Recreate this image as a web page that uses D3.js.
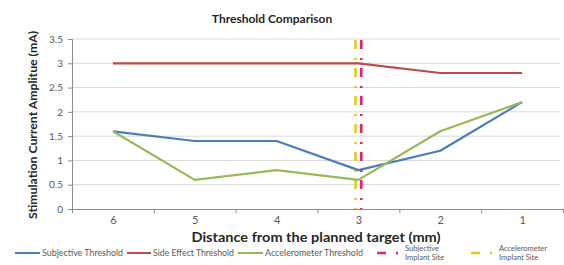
<!DOCTYPE html>
<html>
<head>
<meta charset="utf-8">
<script src="https://cdn.jsdelivr.net/npm/d3@7"></script>
<style>
  body { margin: 0; background: #fff; }
  text { font-family: Lato, "Open Sans", sans-serif; }
</style>
</head>
<body>
<script>
// chart data
var distances = [6, 5, 4, 3, 2, 1];
var subjective = [1.6, 1.4, 1.4, 0.8, 1.2, 2.2];
var sideEffect = [3, 3, 3, 3, 2.8, 2.8];
var accelerometer = [1.6, 0.6, 0.8, 0.6, 1.6, 2.2];
var yTicks = [0, 0.5, 1, 1.5, 2, 2.5, 3, 3.5];
// implant sites sit on either side of 3 mm
var subjectiveSite = 2.965;
var accelerometerSite = 3.035;

var svgWidth = 564;
var svgHeight = 265;

var margin = { top: 39, right: 1, bottom: 56, left: 72 };
var chartWidth = svgWidth - margin.left - margin.right;
var chartHeight = svgHeight - margin.top - margin.bottom;

var svg = d3.select("body").append("svg")
  .attr("width", svgWidth)
  .attr("height", svgHeight);

var chartGroup = svg.append("g")
  .attr("transform", `translate(${margin.left}, ${margin.top})`);

var xScale = d3.scaleLinear()
  .domain([6.5, 0.5])
  .range([0, chartWidth]);

var yScale = d3.scaleLinear()
  .domain([0, 3.5])
  .range([chartHeight, 0]);

// gridlines
chartGroup.append("g")
  .selectAll("line")
  .data(yTicks.slice(1))
  .enter().append("line")
  .attr("x1", 0)
  .attr("x2", chartWidth - 3)
  .attr("y1", d => yScale(d))
  .attr("y2", d => yScale(d))
  .attr("stroke", "#d9d9d9")
  .attr("stroke-width", 1);

// y axis
var leftAxis = d3.axisLeft(yScale).tickValues(yTicks).tickSize(4).tickPadding(5)
  .tickFormat(d3.format("~g"));
var yAxis = chartGroup.append("g").call(leftAxis);
yAxis.select(".domain").attr("stroke", "#8c8c8c");
yAxis.selectAll(".tick line").attr("stroke", "#8c8c8c");
yAxis.selectAll("text").attr("fill", "#595959").style("font-size", "10px");

// x axis: tick marks between categories, labels on them
var xAxisTicks = d3.axisBottom(xScale)
  .tickValues([6.5, 5.5, 4.5, 3.5, 2.5, 1.5, 0.5])
  .tickSize(4)
  .tickFormat("");
var xAxis = chartGroup.append("g")
  .attr("transform", `translate(0, ${chartHeight})`)
  .call(xAxisTicks);
xAxis.select(".domain").attr("stroke", "#8c8c8c");
xAxis.selectAll(".tick line").attr("stroke", "#8c8c8c");

var xAxisLabels = d3.axisBottom(xScale).tickValues(distances).tickSize(0).tickPadding(7)
  .tickFormat(d3.format("d"));
var xLabels = chartGroup.append("g")
  .attr("transform", `translate(0, ${chartHeight})`)
  .call(xAxisLabels);
xLabels.select(".domain").remove();
xLabels.selectAll("text").attr("fill", "#595959").style("font-size", "11px");

// implant site markers
var dashPattern = "9,9,2,8";
chartGroup.append("line")
  .attr("x1", xScale(accelerometerSite)).attr("x2", xScale(accelerometerSite))
  .attr("y1", yScale(3.5) + 1).attr("y2", yScale(0))
  .attr("stroke", "#d4d21a")
  .attr("stroke-width", 2.6)
  .attr("stroke-dasharray", dashPattern);
chartGroup.append("line")
  .attr("x1", xScale(subjectiveSite)).attr("x2", xScale(subjectiveSite))
  .attr("y1", yScale(3.5) + 1).attr("y2", yScale(0))
  .attr("stroke", "#e5226d")
  .attr("stroke-width", 2.6)
  .attr("stroke-dasharray", dashPattern);

// series lines
var drawLine = d3.line()
  .x((d, i) => xScale(distances[i]))
  .y(d => yScale(d));

var series = [
  { values: sideEffect, color: "#be4b48" },
  { values: subjective, color: "#4a7ebb" },
  { values: accelerometer, color: "#98b954" }
];

series.forEach(function(s) {
  chartGroup.append("path")
    .attr("d", drawLine(s.values))
    .attr("fill", "none")
    .attr("stroke", s.color)
    .attr("stroke-width", 2.2)
    .attr("stroke-linejoin", "round");
});

// title
svg.append("text")
  .attr("x", 272)
  .attr("y", 23)
  .attr("text-anchor", "middle")
  .style("font-size", "12px")
  .style("font-weight", "bold")
  .attr("fill", "#262626")
  .text("Threshold Comparison");

// axis titles
svg.append("text")
  .attr("transform", "translate(37, 125) rotate(-90)")
  .attr("text-anchor", "middle")
  .style("font-size", "11.5px")
  .style("font-weight", "bold")
  .attr("fill", "#262626")
  .attr("textLength", 188)
  .attr("lengthAdjust", "spacingAndGlyphs")
  .text("Stimulation Current Amplitue (mA)");

svg.append("text")
  .attr("x", 316)
  .attr("y", 242)
  .attr("text-anchor", "middle")
  .style("font-size", "13.5px")
  .style("font-weight", "bold")
  .attr("fill", "#262626")
  .attr("textLength", 249)
  .attr("lengthAdjust", "spacingAndGlyphs")
  .text("Distance from the planned target (mm)");

// legend
var legendY = 253;
var legendItems = [
  { x: 15, len: 25, label: ["Subjective Threshold"], width: 81, color: "#4a7ebb", dash: null },
  { x: 127, len: 24, label: ["Side Effect Threshold"], width: 81, color: "#be4b48", dash: null },
  { x: 238, len: 25, label: ["Accelerometer Threshold"], width: 98, color: "#98b954", dash: null },
  { x: 377, len: 22, label: ["Subjective", "Implant Site"], color: "#e5226d", dash: "9,10,2,30" },
  { x: 471, len: 22, label: ["Accelerometer", "Implant Site"], color: "#d4d21a", dash: "9,10,2,30" }
];

var legend = svg.append("g");
legendItems.forEach(function(item) {
  var g = legend.append("g");
  g.append("line")
    .attr("x1", item.x).attr("x2", item.x + item.len)
    .attr("y1", legendY).attr("y2", legendY)
    .attr("stroke", item.color)
    .attr("stroke-width", item.dash ? 2.6 : 2)
    .attr("stroke-dasharray", item.dash);
  var tx = item.x + item.len + (item.dash ? 6 : 2);
  if (item.label.length === 1) {
    g.append("text")
      .attr("x", tx)
      .attr("y", legendY + 3)
      .attr("fill", "#595959")
      .style("font-size", "8.5px")
      .attr("textLength", item.width)
      .attr("lengthAdjust", "spacingAndGlyphs")
      .text(item.label[0]);
  } else {
    item.label.forEach(function(l, i) {
      g.append("text")
        .attr("x", tx)
        .attr("y", legendY - 2 + i * 9)
        .attr("fill", "#595959")
        .style("font-size", "7.5px")
        .text(l);
    });
  }
});
</script>
</body>
</html>
